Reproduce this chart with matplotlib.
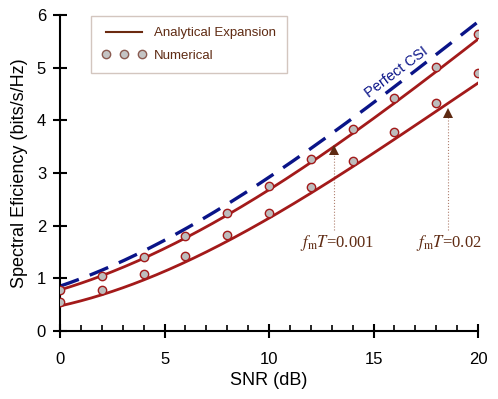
import numpy as np
import matplotlib.pyplot as plt
from matplotlib.lines import Line2D
from matplotlib.ticker import MultipleLocator

plt.rcParams['font.family'] = ['Liberation Sans', 'DejaVu Sans']
plt.rcParams['mathtext.fontset'] = 'stix'

# analytical curves, sampled every 2 dB
snr_line = [0, 2, 4, 6, 8, 10, 12, 14, 16, 18, 20]
perfect_csi = [0.85, 1.15, 1.52, 1.95, 2.43, 2.90, 3.45, 4.02, 4.66, 5.28, 5.85]
analytic_001 = [0.78, 1.05, 1.38, 1.77, 2.20, 2.68, 3.20, 3.75, 4.33, 4.93, 5.54]
analytic_02 = [0.47, 0.70, 0.97, 1.30, 1.70, 2.15, 2.62, 3.12, 3.64, 4.17, 4.71]

# simulated points
snr_pts = [0, 2, 4, 6, 8, 10, 12, 14, 16, 18, 20]
num_001 = [0.77, 1.05, 1.40, 1.80, 2.24, 2.75, 3.26, 3.83, 4.42, 5.02, 5.64]
num_02 = [0.55, 0.78, 1.08, 1.42, 1.82, 2.25, 2.73, 3.23, 3.77, 4.32, 4.90]

red = '#a31a1a'
brown = '#5e2a12'
navy = '#0a1488'

fig = plt.figure(figsize=(4.98, 3.99), dpi=100)
ax = fig.add_axes([0.1205, 0.1704, 0.8395, 0.792])

# smooth the sampled curves for drawing
xs = np.linspace(0, 20, 201)
def smooth(y):
  c = np.polyfit(snr_line, y, 3)
  return np.polyval(c, xs)

ax.plot(xs, smooth(perfect_csi), color=navy, lw=2.4, dashes=(6, 3.5), zorder=2)
ax.plot(xs, smooth(analytic_001), color=red, lw=2.0, zorder=3)
ax.plot(xs, smooth(analytic_02), color=red, lw=2.0, zorder=3)
ax.plot(snr_pts, num_001, 'o', ms=6, mfc='#bdbdbd', mec=red, mew=1.0, zorder=4)
ax.plot(snr_pts, num_02, 'o', ms=6, mfc='#bdbdbd', mec=red, mew=1.0, zorder=4)

# arrows marking the two curves
for xa, ytip in [(13.1, 3.53), (18.55, 4.24)]:
  ax.plot([xa, xa], [1.92, ytip - 0.15], ls=':', lw=0.8, color='#b08070', zorder=1)
  ax.plot(xa, ytip - 0.1, marker='^', ms=7, color=brown, mew=0, zorder=5)

ax.text(13.25, 1.67, r'$f_{\mathrm{m}}T$=0.001', family='Liberation Serif', fontsize=12,
        color=brown, ha='center', va='center')
ax.text(18.6, 1.67, r'$f_{\mathrm{m}}T$=0.02', family='Liberation Serif', fontsize=12,
        color=brown, ha='center', va='center')
ax.text(16.12, 4.92, 'Perfect CSI', color=navy, fontsize=10.5, rotation=37,
        ha='center', va='center', rotation_mode='anchor')

handles = [Line2D([], [], color='#6b2a10', lw=1.5),
           Line2D([], [], ls='none', marker='o', ms=6, mfc='#c4c4c4', mec='#8a5a50')]
leg = ax.legend(handles, ['Analytical Expansion', 'Numerical'], numpoints=3,
                loc='upper left', bbox_to_anchor=(0.074, 0.997), borderaxespad=0,
                fontsize=9.5, frameon=True, fancybox=False, edgecolor='#c8b8b0',
                labelcolor=brown, handlelength=3.3, handletextpad=0.6,
                borderpad=0.85, labelspacing=0.75)
leg.get_frame().set_linewidth(1.0)

ax.set_xlim(0, 20)
ax.set_ylim(0, 6)
ax.xaxis.set_major_locator(MultipleLocator(5))
ax.xaxis.set_minor_locator(MultipleLocator(1))
ax.yaxis.set_major_locator(MultipleLocator(1))
ax.spines['top'].set_visible(False)
ax.spines['right'].set_visible(False)
for s in ('left', 'bottom'):
  ax.spines[s].set_linewidth(1.5)
ax.tick_params(axis='x', which='major', direction='inout', length=10, width=1.5, pad=10, labelsize=12)
ax.tick_params(axis='x', which='minor', direction='in', length=4, width=1.2)
ax.tick_params(axis='y', which='major', direction='inout', length=10, width=1.5, pad=5, labelsize=12)
ax.set_xlabel('SNR (dB)', fontsize=13, labelpad=4)
ax.set_ylabel('Spectral Eficiency (bits/s/Hz)', fontsize=13, labelpad=6)

fig.savefig('out.png', dpi=100)
